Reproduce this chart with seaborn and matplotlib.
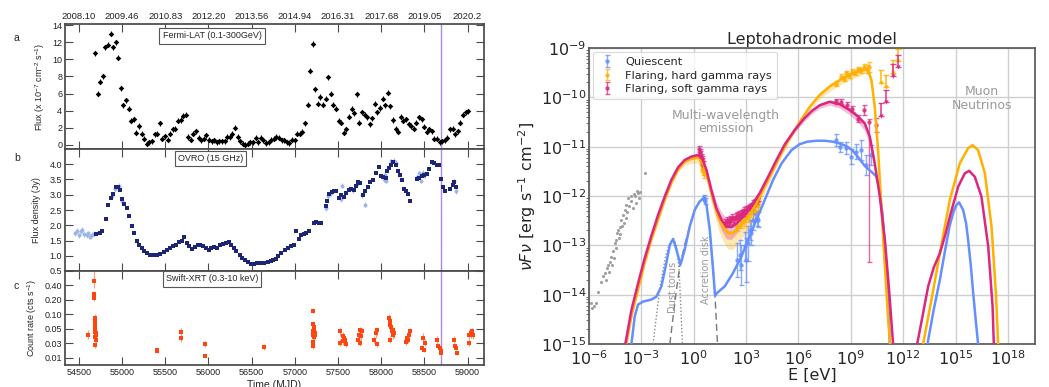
import numpy as np
import pandas as pd
import matplotlib
matplotlib.use("Agg")
import matplotlib.pyplot as plt
import seaborn as sns
from matplotlib.ticker import FixedLocator, NullFormatter, LogLocator

# ---------------------------------------------------------------- light curves
# Fermi-LAT 30-day bins (flux in 1e-7 cm^-2 s^-1)
fermi_first_bin = 54687
fermi_bin_days = 30
fermi_flux = [10.7, 6.0, 7.4, 8.0, 11.4, 11.7, 13.0, 11.4, 12.0, 10.2, 6.6, 4.6, 5.2, 4.2, 2.8, 3.0,
              1.4, 2.2, 1.3, 0.7, 0.1, 0.3, 0.4, 1.2, 1.3, 2.5, 0.7, 1.0, 0.6, 1.3, 1.8, 1.9, 2.8, 2.9,
              3.4, 3.5, 0.9, 0.6, 1.3, 1.6, 0.8, 0.5, 0.7, 1.1, 0.6, 0.4, 0.5, 0.3, 0.4, 0.4, 0.4, 0.9,
              0.9, 1.3, 2.0, 0.9, 0.4, 0.1, 0.0, 0.1, 0.3, 0.3, 0.8, 0.3, 0.8, 0.5, 0.2, 0.3, 0.6, 0.7,
              0.9, 0.8, 0.5, 0.5, 0.3, 0.2, 0.6, 0.5, 1.3, 1.3, 1.5, 2.5, 4.7, 8.7, 11.8, 6.5, 4.8, 5.6,
              4.7, 5.4, 7.9, 6.0, 4.7, 4.2, 2.8, 2.6, 1.4, 1.8, 3.3, 4.2, 3.7, 5.9, 2.6, 3.8, 3.5, 3.2,
              2.4, 3.1, 4.8, 3.8, 4.3, 5.4, 4.6, 6.1, 4.5, 2.9, 1.9, 1.5, 3.3, 2.8, 3.0, 2.4, 2.2, 1.9,
              2.6, 3.2, 3.0, 2.1, 1.5, 1.8, 1.6, 0.7, 0.7, 0.3, 0.4, 0.5, 0.8, 1.8, 1.9, 1.2, 1.6, 2.6,
              3.5, 3.8, 3.9]
fermi_err = 0.3

# OVRO 15 GHz, binned (dark) and individual (light) measurements, Jy
ovro_mjd = [54695, 54746, 54773, 54812, 54839, 54870, 54898, 54925, 54948, 54972, 54995, 55026, 55054,
            55081, 55112, 55143, 55175, 55202, 55233, 55260, 55292, 55327, 55366, 55405, 55436, 55487,
            55522, 55557, 55592, 55627, 55658, 55690, 55721, 55748, 55779, 55814, 55846, 55877, 55908,
            55943, 55970, 56002, 56033, 56068, 56103, 56138, 56173, 56208, 56239, 56267, 56294, 56325,
            56360, 56392, 56423, 56454, 56489, 56528, 56567, 56606, 56645, 56684, 56723, 56750, 56780,
            56807, 56846, 56884, 56923, 56961, 56988, 57012, 57050, 57077, 57104, 57135, 57166, 57220,
            57251, 57282, 57309, 57359, 57374, 57398, 57425, 57452, 57475, 57513, 57540, 57567, 57598,
            57629, 57656, 57683, 57706, 57733, 57753, 57791, 57818, 57849, 57876, 57907, 57938, 57969,
            57996, 58023, 58050, 58069, 58092, 58119, 58139, 58166, 58189, 58216, 58243, 58262, 58285,
            58308, 58332, 58409, 58436, 58467, 58494, 58525, 58556, 58583, 58610, 58641, 58664, 58687,
            58710, 58741, 58795, 58826, 58841, 58865]
ovro_jy = [1.71, 1.74, 1.82, 2.21, 2.65, 2.89, 3.02, 3.24, 3.27, 3.16, 2.87, 2.69, 2.58,
           2.29, 1.96, 1.73, 1.49, 1.36, 1.25, 1.16, 1.08, 1.03, 1.01, 1.01, 1.05, 1.11,
           1.20, 1.25, 1.31, 1.36, 1.44, 1.47, 1.60, 1.42, 1.31, 1.23, 1.28, 1.34, 1.34,
           1.31, 1.25, 1.20, 1.25, 1.28, 1.27, 1.34, 1.38, 1.42, 1.45, 1.36, 1.27, 1.16,
           1.03, 0.92, 0.85, 0.78, 0.74, 0.74, 0.76, 0.76, 0.77, 0.79, 0.82, 0.86, 0.90,
           0.98, 1.09, 1.20, 1.25, 1.33, 1.36, 1.80, 1.56, 1.67, 1.71, 1.75, 1.80, 2.06,
           2.12, 2.08, 2.08, 2.62, 2.78, 3.02, 3.08, 3.11, 3.13, 2.89, 3.00, 2.93, 3.05,
           3.16, 3.19, 3.15, 3.30, 3.41, 3.37, 2.98, 3.13, 3.24, 3.43, 3.47, 3.71, 3.92,
           3.60, 3.57, 3.54, 3.78, 3.87, 3.98, 4.06, 3.99, 3.78, 3.65, 3.47, 3.19, 3.13,
           3.02, 2.78, 3.52, 3.56, 3.63, 3.65, 3.67, 3.85, 4.06, 4.03, 3.99, 3.97, 3.52,
           3.27, 3.11, 3.19, 3.32, 3.43, 3.27]
ovro_single_mjd = [54461, 54480, 54500, 54520, 54540, 54565, 54590, 54608, 54630, 54650, 54675,
                   54880, 54920, 54960, 55000, 57359, 57386, 57417, 57529, 57550, 57629, 57675,
                   57721, 57779, 57818, 58031, 58042, 58054, 58108, 58147, 58170, 58409, 58440,
                   58455, 58482, 58500, 58841, 58865]
ovro_single_jy = [1.74, 1.82, 1.67, 1.80, 1.85, 1.71, 1.67, 1.74, 1.63, 1.69, 1.72,
                  2.95, 3.20, 3.30, 2.80, 2.55, 2.95, 3.05, 2.85, 3.30, 3.20, 3.15,
                  3.35, 2.98, 2.67, 3.50, 3.65, 3.45, 4.10, 4.12, 4.05, 3.57, 3.70,
                  3.45, 3.72, 3.62, 3.45, 3.12]
ovro_single_err = 0.08

# Swift-XRT 0.3-10 keV count rates
xrt_mjd = [54609, 54675, 54675, 54676, 54683, 54683, 54687, 54683, 54691, 54687, 54695, 54683, 54695,
           54683, 54699, 55402, 55405, 55686, 55688, 55959, 55961, 56640,
           57214, 57206, 57218, 57225, 57214, 57229, 57206, 57222, 57214, 57210, 57233,
           57526, 57522, 57554, 57574, 57585, 57562, 57593,
           57726, 57738, 57757, 57776, 57749, 57768,
           57918, 57938, 57946, 57957,
           58093, 58105, 58097, 58117, 58125, 58136, 58105, 58144, 58132,
           58292, 58304, 58319, 58331, 58311,
           58471, 58483, 58502, 58491,
           58646, 58658, 58677, 58689, 58697,
           58840, 58852, 58864, 58872,
           59018, 59034, 59046, 59057, 59018]
xrt_rate = [0.042, 0.433, 0.282, 0.228, 0.088, 0.076, 0.065, 0.056, 0.049, 0.046, 0.042, 0.039, 0.035,
            0.028, 0.044, 0.021, 0.020, 0.045, 0.037, 0.029, 0.012, 0.025,
            0.126, 0.067, 0.056, 0.049, 0.047, 0.044, 0.042, 0.039, 0.032, 0.026, 0.042,
            0.047, 0.031, 0.040, 0.037, 0.034, 0.033, 0.029,
            0.035, 0.042, 0.049, 0.047, 0.031, 0.040,
            0.035, 0.044, 0.049, 0.029,
            0.088, 0.076, 0.065, 0.056, 0.047, 0.042, 0.035, 0.044, 0.049,
            0.032, 0.038, 0.042, 0.047, 0.035,
            0.024, 0.038, 0.031, 0.021,
            0.035, 0.026, 0.024, 0.020, 0.016,
            0.035, 0.026, 0.024, 0.017,
            0.042, 0.044, 0.047, 0.042, 0.031]
xrt_frac_err = 0.15

# Count-rate axis: labelled levels are drawn evenly spaced
rate_levels = [0.0, 0.01, 0.03, 0.05, 0.10, 0.20, 0.40, 0.5]
rate_tick_labels = ["0.01", "0.03", "0.05", "0.10", "0.20", "0.40", "0.5"]

mjd_ticks = [54500, 55000, 55500, 56000, 56500, 57000, 57500, 58000, 58500, 59000]
year_labels = ["2008.10", "2009.46", "2010.83", "2012.20", "2013.56", "2014.94", "2016.31",
               "2017.68", "2019.05", "2020.2"]
neutrino_mjd = 58694

# ---------------------------------------------------------------- SED (log10 E [eV], log10 nuFnu)
quiet_lgE = [-3.57, -3.38, -3.19, -2.9, -2.43, -2.14, -1.85, -1.57, -1.37, -1.18, -0.99, -0.76, -0.52,
             -0.23, 0.06, 0.34, 0.54, 0.73, 0.92, 1.11, 1.22, 1.35, 1.78, 2.25, 2.73, 3.11, 3.59, 4.07,
             4.55, 5.03, 5.6, 6.07, 6.5, 7.03, 7.5, 7.98, 8.4, 8.75, 9.05, 9.32, 9.8, 10.18, 10.45,
             10.6, 10.81, 11.0, 11.16, 11.23]
quiet_lgF = [-15.0, -14.44, -14.2, -14.14, -14.1, -14.04, -13.83, -13.36, -12.99, -12.87, -13.09, -13.39,
             -13.09, -12.62, -12.28, -12.11, -12.05, -12.18, -12.69, -13.5, -14.02, -13.96, -13.83,
             -13.56, -13.23, -12.89, -12.48, -12.08, -11.67, -11.34, -11.07, -10.95, -10.9, -10.88,
             -10.88, -10.9, -10.94, -10.99, -11.06, -11.17, -11.39, -11.51, -11.6, -11.8, -12.35,
             -13.23, -14.24, -15.0]
quiet_nu_lgE = [13.39, 13.75, 14.1, 14.4, 14.67, 14.9, 15.05, 15.2, 15.43, 15.6, 15.72, 15.87, 16.01,
                16.15, 16.29]
quiet_nu_lgF = [-15.0, -14.3, -13.7, -13.1, -12.59, -12.3, -12.18, -12.13, -12.28, -12.55, -12.89,
                -13.4, -13.97, -14.5, -15.0]

hard_lgE = [-3.86, -3.57, -3.19, -2.81, -2.43, -2.04, -1.66, -1.28, -0.9, -0.52, -0.13, 0.25, 0.54,
            0.82, 1.11, 1.4, 1.68, 1.97, 2.25, 2.64, 3.11, 3.59, 4.07, 4.55, 5.03, 5.6, 6.07, 6.65,
            7.22, 7.79, 8.37, 8.94, 9.42, 9.8, 9.99, 10.18, 10.37, 10.56, 10.75, 10.95, 11.14, 11.25]
hard_lgF = [-15.0, -14.44, -13.9, -13.36, -12.89, -12.48, -12.08, -11.74, -11.47, -11.3, -11.24, -11.22,
            -11.34, -11.67, -12.08, -12.42, -12.62, -12.75, -12.75, -12.62, -12.42, -12.15, -11.81,
            -11.47, -11.13, -10.76, -10.5, -10.19, -9.95, -9.78, -9.65, -9.55, -9.48, -9.41, -9.45,
            -9.65, -10.19, -11.07, -12.21, -13.43, -14.51, -15.0]
hard_nu_lgE = [13.14, 13.62, 14.1, 14.67, 15.24, 15.72, 15.97, 16.29, 16.68, 17.06, 17.31, 17.44]
hard_nu_lgF = [-15.0, -14.1, -13.16, -12.08, -11.34, -11.03, -10.97, -11.07, -11.54, -12.62, -13.97,
               -15.0]

soft_lgE = [-3.92, -3.57, -3.19, -2.81, -2.43, -2.04, -1.66, -1.28, -0.9, -0.52, -0.13, 0.25, 0.48,
            0.73, 1.01, 1.3, 1.59, 1.87, 2.16, 2.45, 2.83, 3.31, 3.78, 4.26, 4.74, 5.22, 5.79, 6.3,
            6.75, 7.22, 7.79, 8.37, 8.94, 9.42, 9.8, 10.09, 10.37, 10.66, 10.95, 11.19, 11.42]
soft_lgF = [-15.0, -14.31, -13.77, -13.26, -12.81, -12.38, -12.01, -11.67, -11.42, -11.27, -11.2, -11.17,
            -11.24, -11.47, -11.88, -12.25, -12.48, -12.62, -12.63, -12.56, -12.42, -12.21, -11.94,
            -11.61, -11.27, -10.95, -10.66, -10.44, -10.28, -10.16, -10.09, -10.14, -10.26, -10.39,
            -10.53, -10.8, -11.34, -12.01, -12.89, -13.9, -15.0]
soft_nu_lgE = [12.8, 13.1, 13.43, 13.75, 14.1, 14.4, 14.67, 15.15, 15.53, 15.78, 16.1, 16.48, 16.87,
               17.12, 17.19]
soft_nu_lgF = [-15.0, -14.45, -13.83, -13.45, -13.16, -12.8, -12.42, -11.81, -11.54, -11.49, -11.61,
               -12.01, -13.02, -14.24, -15.0]

# Uncertainty bands (dex below / above the model curve)
hard_band_below = [0, 0, 0, 0, 0, 0, 0, 0, 0.05, 0.08, 0.1, 0.12, 0.14, 0.16, 0.2, 0.25, 0.3, 0.33,
                   0.33, 0.3, 0.25, 0.18, 0.12, 0.08, 0.06, 0.05, 0.05, 0.06, 0.08, 0.1, 0.1, 0.1,
                   0.1, 0.1, 0.1, 0.12, 0.1, 0, 0, 0, 0, 0]
hard_band_above = [0, 0, 0, 0, 0, 0, 0, 0, 0.02, 0.03, 0.03, 0.03, 0.04, 0.05, 0.05, 0.06, 0.06, 0.06,
                   0.06, 0.06, 0.05, 0.04, 0.03, 0.03, 0.03, 0.03, 0.03, 0.04, 0.05, 0.05, 0.05, 0.05,
                   0.04, 0.03, 0.03, 0.03, 0.03, 0, 0, 0, 0, 0]
soft_band_below = [0, 0, 0, 0, 0, 0, 0, 0, 0.04, 0.05, 0.06, 0.07, 0.08, 0.1, 0.14, 0.18, 0.22, 0.25,
                   0.25, 0.2, 0.15, 0.1, 0.07, 0.05, 0.04, 0.04, 0.05, 0.06, 0.06, 0.06, 0.07, 0.08,
                   0.1, 0.12, 0.15, 0.18, 0.15, 0, 0, 0, 0]
soft_band_above = [0, 0, 0, 0, 0, 0, 0, 0, 0.02, 0.02, 0.02, 0.03, 0.03, 0.04, 0.08, 0.12, 0.15, 0.17,
                   0.18, 0.17, 0.14, 0.1, 0.06, 0.04, 0.03, 0.03, 0.03, 0.03, 0.04, 0.04, 0.04, 0.04,
                   0.04, 0.04, 0.04, 0.04, 0.04, 0, 0, 0, 0]

# Thermal components of the quiescent model
torus_lgE = [-2.33, -2.14, -1.95, -1.76, -1.57, -1.37, -1.18, -0.99, -0.84, -0.75, -0.65]
torus_lgF = [-15.0, -14.44, -13.9, -13.5, -13.16, -12.96, -12.87, -12.99, -13.5, -14.17, -15.0]
disk_lgE = [-1.37, -1.18, -0.99, -0.8, -0.52, -0.23, 0.06, 0.34, 0.54, 0.73, 0.92, 1.11, 1.24, 1.36]
disk_lgF = [-15.0, -14.44, -13.9, -13.43, -12.99, -12.62, -12.28, -12.11, -12.05, -12.18, -12.69,
            -13.5, -14.17, -15.0]

# Archival radio / mm measurements
radio_lgE = [-5.86, -5.8, -5.72, -5.58, -5.48, -5.3, -5.2, -5.1, -5.05, -4.95, -4.91, -4.85, -4.81,
             -4.72, -4.68, -4.62, -4.55, -4.53, -4.45, -4.43, -4.38, -4.34, -4.3, -4.24, -4.2, -4.15,
             -4.1, -4.05, -4.0, -3.95, -3.9, -3.86, -3.8, -3.76, -3.7, -3.62, -3.57, -3.5, -3.45,
             -3.38, -3.3, -3.25, -3.19, -3.15, -3.09, -2.81]
radio_lgF = [-14.17, -14.28, -14.22, -14.17, -13.95, -13.75, -13.63, -13.56, -13.7, -13.45, -13.39,
             -13.55, -13.33, -13.23, -13.4, -13.12, -13.25, -12.96, -13.05, -12.89, -12.75, -12.69,
             -12.85, -12.62, -12.78, -12.48, -12.6, -12.38, -12.55, -12.28, -12.45, -12.18, -12.32,
             -12.05, -12.2, -12.0, -12.11, -12.25, -11.95, -12.01, -12.15, -11.9, -11.94, -12.05,
             -11.91, -11.53]

# Observed fluxes: log10 E, log10 nuFnu, error (dex)
quiet_obs_lgE = [0.56, 0.62, 2.45, 2.64, 2.73, 2.92, 3.02, 3.11, 3.21, 3.3, 3.4, 3.5, 3.6, 3.69,
                 8.14, 8.4, 8.71, 9.03, 9.32, 9.61, 9.89, 10.18]
quiet_obs_lgF = [-12.02, -12.1, -13.3, -13.19, -13.4, -13.02, -13.3, -12.96, -12.69, -12.75, -12.48,
                 -12.35, -12.45, -12.48, -10.86, -11.01, -11.03, -11.2, -11.1, -11.07, -11.37, -11.17]
quiet_obs_err = [0.05, 0.06, 0.35, 0.3, 0.4, 0.3, 0.45, 0.35, 0.2, 0.25, 0.2, 0.15, 0.15, 0.15,
                 0.12, 0.1, 0.12, 0.15, 0.15, 0.2, 0.2, 0.2]

hard_obs_lgE = [0.4, 0.45, 0.5, 0.55, 0.6, 2.5, 2.7, 2.9, 3.1, 3.3, 3.5, 3.7,
                8.14, 8.46, 8.6, 8.75, 8.9, 9.09, 9.25, 9.42, 9.58, 9.74, 9.9, 10.05]
hard_obs_lgF = [-11.3, -11.35, -11.45, -11.5, -11.55, -12.6, -12.55, -12.5, -12.45, -12.35, -12.3, -12.2,
                -9.72, -9.58, -9.62, -9.51, -9.55, -9.48, -9.5, -9.43, -9.45, -9.39, -9.42, -9.38]
hard_obs_err = [0.06, 0.06, 0.07, 0.07, 0.08, 0.1, 0.1, 0.1, 0.08, 0.08, 0.08, 0.08,
                0.06, 0.05, 0.05, 0.05, 0.05, 0.05, 0.05, 0.05, 0.05, 0.06, 0.08, 0.1]
hard_ul_lgE = [10.72, 11.04, 11.4, 11.71]
hard_ul_lgF = [-9.45, -9.55, -9.25, -9.02]

soft_obs_lgE = [0.3, 0.35, 0.38, 0.42, 0.45, 0.5, 0.55,
                1.8, 1.9, 2.0, 2.1, 2.2, 2.3, 2.4, 2.5, 2.6, 2.7, 2.8, 2.9, 3.0, 3.1, 3.2, 3.3, 3.4,
                3.5, 3.6, 3.7,
                8.14, 8.46, 8.79, 9.09, 9.42, 9.74, 10.43]
soft_obs_lgF = [-11.05, -11.1, -11.15, -11.2, -11.25, -11.3, -11.38,
                -12.55, -12.5, -12.52, -12.48, -12.45, -12.47, -12.42, -12.4, -12.38, -12.36, -12.33,
                -12.3, -12.28, -12.24, -12.22, -12.2, -12.15, -12.12, -12.1, -12.05,
                -10.08, -10.09, -10.16, -10.24, -10.43, -10.26, -10.56]
soft_obs_err = [0.06, 0.06, 0.06, 0.06, 0.07, 0.07, 0.08,
                0.08, 0.08, 0.08, 0.08, 0.08, 0.07, 0.07, 0.07, 0.07, 0.07, 0.07, 0.07, 0.07, 0.06,
                0.06, 0.06, 0.06, 0.06, 0.06, 0.06,
                0.05, 0.05, 0.06, 0.06, 0.08, 0.1, 0.15]
soft_wide_lgE = 10.05
soft_wide_lgF = -10.49
soft_wide_lo = -13.33
soft_ul_lgE = [10.72, 11.04, 11.4, 11.71]
soft_ul_lgF = [-10.12, -9.85, -9.32, -9.14]
ul_length = 0.25

sed_ticks_lgE = [-6, -3, 0, 3, 6, 9, 12, 15, 18]

# ---------------------------------------------------------------- styling
C_QUIET = "#648FFF"
C_HARD = "#FFB000"
C_SOFT = "#DC267F"
GREY_TXT = "#9a9a9a"

sns.set_theme(style="whitegrid")
plt.rcParams["font.family"] = ["DejaVu Sans"]
plt.rcParams["mathtext.default"] = "regular"

fig = plt.figure(figsize=(10.49, 3.87), dpi=100)
W, H = 1049.0, 387.0


def box(l, t, r, b):
    return [l / W, 1 - b / H, (r - l) / W, (b - t) / H]


lc_rc = {"axes.edgecolor": "#4a4a4a", "axes.linewidth": 0.9, "axes.grid": False,
         "xtick.direction": "in", "ytick.direction": "in",
         "xtick.major.size": 3.5, "ytick.major.size": 3.0,
         "xtick.top": True, "ytick.right": True, "xtick.bottom": True, "ytick.left": True}
LC_FONT = "Liberation Sans"
LC_FS = 6.5

with sns.axes_style("ticks", rc=lc_rc):
    ax_a = fig.add_axes(box(65, 24, 484, 149))
    ax_b = fig.add_axes(box(65, 149, 484, 271))
    ax_c = fig.add_axes(box(65, 271, 484, 365))

xlim_mjd = (54340, 59190)
for ax in (ax_a, ax_b, ax_c):
    ax.set_xlim(*xlim_mjd)
    ax.xaxis.set_major_locator(FixedLocator(mjd_ticks))
    ax.tick_params(axis="both", which="both", direction="in", top=True, right=True,
                   labelsize=LC_FS, labelfontfamily=LC_FONT, labelcolor="#222222",
                   color="#4a4a4a", width=0.8, pad=2)
    ax.axvline(neutrino_mjd, color="#a98be6", lw=1.0, zorder=1)
    ax.set_facecolor("white")

# --- panel a: Fermi-LAT
fermi_mjd = fermi_first_bin + fermi_bin_days * np.arange(len(fermi_flux))
fermi_df = pd.DataFrame({"mjd": fermi_mjd, "flux": fermi_flux})
ax_a.errorbar(fermi_df["mjd"], fermi_df["flux"], yerr=fermi_err, xerr=fermi_bin_days / 2,
              fmt="none", ecolor="black", elinewidth=0.7, capsize=0, zorder=2)
sns.scatterplot(data=fermi_df, x="mjd", y="flux", ax=ax_a, color="black", marker="D", s=8,
                linewidth=0, zorder=3)
ax_a.set_ylim(-0.5, 14.15)
ax_a.set_yticks(range(0, 15, 2))
ax_a.set_xticklabels(year_labels)
ax_a.tick_params(axis="x", labeltop=True, labelbottom=False, labelsize=6.8)
ax_a.set_xlabel("")
ax_a.set_ylabel(r"Flux (x 10$^{-7}$ cm$^{-2}$ s$^{-1}$)", fontsize=LC_FS, family=LC_FONT, labelpad=4)
ax_a.text(0.351, 0.905, "Fermi-LAT (0.1-300GeV)", transform=ax_a.transAxes, ha="center", va="center",
          fontsize=LC_FS, family=LC_FONT,
          bbox=dict(boxstyle="square,pad=0.35", fc="white", ec="#555555", lw=0.8))

# --- panel b: OVRO
ovro_single = pd.DataFrame({"mjd": ovro_single_mjd, "jy": ovro_single_jy})
ax_b.errorbar(ovro_single["mjd"], ovro_single["jy"], yerr=ovro_single_err, fmt="none",
              ecolor="#a9c0ee", elinewidth=0.8, capsize=0, zorder=2)
sns.scatterplot(data=ovro_single, x="mjd", y="jy", ax=ax_b, color="#9cb6ea", s=8, linewidth=0,
                zorder=2)
ovro_df = pd.DataFrame({"mjd": ovro_mjd, "jy": ovro_jy})
sns.scatterplot(data=ovro_df, x="mjd", y="jy", ax=ax_b, color="#1d2676", marker="s", s=8,
                linewidth=0, zorder=3)
ax_b.set_ylim(0.5, 4.5)
ax_b.set_yticks([1.0, 1.5, 2.0, 2.5, 3.0, 3.5, 4.0])
ax_b.set_yticklabels(["1.0", "1.5", "2.0", "2.5", "3.0", "3.5", "4.0"])
ax_b.tick_params(axis="x", labelbottom=False)
ax_b.set_xlabel("")
ax_b.set_ylabel("Flux density (Jy)", fontsize=LC_FS, family=LC_FONT, labelpad=6)
ax_b.text(0.347, 0.922, "OVRO (15 GHz)", transform=ax_b.transAxes, ha="center", va="center",
          fontsize=LC_FS, family=LC_FONT,
          bbox=dict(boxstyle="square,pad=0.3", fc="white", ec="#555555", lw=0.8))

# --- panel c: Swift-XRT on an evenly spaced count-rate scale
rate_pos = np.arange(len(rate_levels)) - 1.0


def rate_fwd(v):
    return np.interp(v, rate_levels, rate_pos)


def rate_inv(p):
    return np.interp(p, rate_pos, rate_levels)


ax_c.set_yscale("function", functions=(rate_fwd, rate_inv))
xrt_df = pd.DataFrame({"mjd": xrt_mjd, "rate": xrt_rate})
ax_c.errorbar(xrt_df["mjd"], xrt_df["rate"], yerr=xrt_df["rate"] * xrt_frac_err, fmt="none",
              ecolor="#ff9a76", elinewidth=0.8, capsize=0, zorder=2)
sns.scatterplot(data=xrt_df, x="mjd", y="rate", ax=ax_c, color="#ff4611", marker="s", s=7,
                linewidth=0, zorder=3)
ax_c.set_ylim(0.005, 0.5)
ax_c.yaxis.set_major_locator(FixedLocator(rate_levels[1:]))
ax_c.yaxis.set_minor_locator(FixedLocator([]))
ax_c.set_yticklabels(rate_tick_labels)
ax_c.set_xticklabels([str(t) for t in mjd_ticks])
ax_c.set_xlabel("Time (MJD)", fontsize=7.5, family=LC_FONT, labelpad=2)
ax_c.set_ylabel(r"Count rate (cts s$^{-1}$)", fontsize=LC_FS, family=LC_FONT, labelpad=4)
ax_c.text(0.351, 0.915, "Swift-XRT (0.3-10 keV)", transform=ax_c.transAxes, ha="center", va="center",
          fontsize=LC_FS, family=LC_FONT,
          bbox=dict(boxstyle="square,pad=0.35", fc="white", ec="#555555", lw=0.8))

for lbl, y in (("a", 38), ("b", 158), ("c", 286)):
    fig.text(14 / W, 1 - y / H, lbl, fontsize=7.5, family=LC_FONT, ha="left", va="center")

# ---------------------------------------------------------------- SED panel
sed_rc = {"axes.edgecolor": "#5a5a5a", "axes.linewidth": 1.0, "grid.color": "#cfcfcf",
          "grid.linewidth": 1.0, "ytick.left": True, "ytick.minor.left": True}
with sns.axes_style("whitegrid", rc=sed_rc):
    ax_s = fig.add_axes(box(589, 48, 1035, 344))
ax_s.set_xscale("log")
ax_s.set_yscale("log")
ax_s.set_xlim(1e-6, 10 ** 19.55)
ax_s.set_ylim(1e-15, 1e-9)


def curve(lgE, lgF):
    return pd.DataFrame({"E": np.power(10.0, lgE), "F": np.power(10.0, lgF)})


def band(lgE, lgF, below, above, color):
    lgE = np.asarray(lgE)
    lgF = np.asarray(lgF)
    below = np.asarray(below)
    above = np.asarray(above)
    m = (below > 0) | (above > 0)
    ax_s.fill_between(10 ** lgE[m], 10 ** (lgF[m] - below[m]), 10 ** (lgF[m] + above[m]),
                      color=color, alpha=0.3, lw=0, zorder=2)


band(hard_lgE, hard_lgF, hard_band_below, hard_band_above, C_HARD)
band(soft_lgE, soft_lgF, soft_band_below, soft_band_above, C_SOFT)

# thermal components
sns.lineplot(data=curve(torus_lgE, torus_lgF), x="E", y="F", ax=ax_s, sort=False, estimator=None,
             color="#888888", lw=1.0, linestyle=(0, (1, 1.5)), zorder=3)
sns.lineplot(data=curve(disk_lgE, disk_lgF), x="E", y="F", ax=ax_s, sort=False, estimator=None,
             color="#777777", lw=1.0, linestyle=(0, (5, 3)), zorder=3)

# radio archive
radio = curve(radio_lgE, radio_lgF)
sns.scatterplot(data=radio, x="E", y="F", ax=ax_s, color="#a0a0a0", s=5, linewidth=0, zorder=3)


def observed(lgE, lgF, err, color):
    lgE = np.asarray(lgE)
    lgF = np.asarray(lgF)
    err = np.asarray(err)
    y = 10 ** lgF
    lo = y - 10 ** (lgF - err)
    hi = 10 ** (lgF + err) - y
    return ax_s.errorbar(10 ** lgE, y, yerr=[lo, hi], fmt="o", ms=2.2, color=color, ecolor=color,
                         elinewidth=1.0, capsize=1.8, capthick=1.0, alpha=0.75, zorder=4)


def upper_limits(lgE, lgF, color):
    lgE = np.asarray(lgE)
    top = 10 ** np.asarray(lgF)
    bottom = 10 ** (np.asarray(lgF) - ul_length)
    ax_s.errorbar(10 ** lgE, top, yerr=[top - bottom, np.zeros_like(top)], fmt="none", ecolor=color,
                  elinewidth=1.2, capsize=2, capthick=1.0, alpha=0.85, zorder=4)
    ax_s.scatter(10 ** lgE, bottom, marker="v", s=10, color=color, alpha=0.85, zorder=4, lw=0)


h_quiet = observed(quiet_obs_lgE, quiet_obs_lgF, quiet_obs_err, C_QUIET)
h_hard = observed(hard_obs_lgE, hard_obs_lgF, hard_obs_err, C_HARD)
h_soft = observed(soft_obs_lgE, soft_obs_lgF, soft_obs_err, C_SOFT)
upper_limits(hard_ul_lgE, hard_ul_lgF, C_HARD)
upper_limits(soft_ul_lgE, soft_ul_lgF, C_SOFT)
wide_y = 10 ** soft_wide_lgF
ax_s.errorbar([10 ** soft_wide_lgE], [wide_y], yerr=[[wide_y - 10 ** soft_wide_lo], [0.15 * wide_y]],
              fmt="o", ms=2.2, color=C_SOFT, elinewidth=1.0, capsize=1.8, alpha=0.7, zorder=4)

# model curves
for lgE, lgF, col in ((quiet_lgE, quiet_lgF, C_QUIET), (quiet_nu_lgE, quiet_nu_lgF, C_QUIET),
                      (hard_lgE, hard_lgF, C_HARD), (hard_nu_lgE, hard_nu_lgF, C_HARD),
                      (soft_lgE, soft_lgF, C_SOFT), (soft_nu_lgE, soft_nu_lgF, C_SOFT)):
    sns.lineplot(data=curve(lgE, lgF), x="E", y="F", ax=ax_s, sort=False, estimator=None,
                 color=col, lw=1.8, zorder=5)

ax_s.xaxis.set_major_locator(FixedLocator([10.0 ** k for k in sed_ticks_lgE]))
ax_s.xaxis.set_minor_locator(FixedLocator([]))
ax_s.yaxis.set_major_locator(LogLocator(base=10, numticks=20))
ax_s.yaxis.set_minor_locator(LogLocator(base=10, subs=np.arange(2, 10), numticks=20))
ax_s.yaxis.set_minor_formatter(NullFormatter())
ax_s.tick_params(axis="both", which="major", labelsize=11.5, pad=2, length=0)
ax_s.tick_params(axis="x", which="major", pad=4)
ax_s.tick_params(axis="y", which="minor", left=True, length=2.5, width=0.6, color="#555555")
ax_s.grid(True, which="major", color="#cfcfcf", lw=1.0)
ax_s.grid(False, which="minor")
ax_s.set_xlabel("E [eV]", fontsize=11.5, labelpad=0)
ax_s.set_ylabel(r"$\mathit{\nu F\nu}$ [erg s$^{-1}$ cm$^{-2}$]", fontsize=11.5, labelpad=2)
ax_s.set_title("Leptohadronic model", fontsize=11.5, pad=3)

ax_s.text(10 ** 1.83, 10 ** -10.5, "Multi-wavelength\nemission", ha="center", va="center",
          fontsize=9, color=GREY_TXT, linespacing=1.1)
ax_s.text(10 ** 16.5, 10 ** -10.02, "Muon\nNeutrinos", ha="center", va="center", fontsize=9,
          color=GREY_TXT, linespacing=1.1)
ax_s.text(10 ** -1.19, 10 ** -13.85, "Dust torus", rotation=90, ha="center", va="center",
          fontsize=7, color=GREY_TXT)
ax_s.text(10 ** 0.73, 10 ** -13.5, "Accretion disk", rotation=90, ha="center", va="center",
          fontsize=7, color=GREY_TXT)

leg = ax_s.legend([h_quiet, h_hard, h_soft],
                  ["Quiescent", "Flaring, hard gamma rays", "Flaring, soft gamma rays"],
                  loc="upper left", fontsize=8.2, frameon=True, borderpad=0.45, labelspacing=0.3,
                  handlelength=1.5, handletextpad=0.9, borderaxespad=0.35, fancybox=True)
leg.get_frame().set_edgecolor("#d0d0d0")
leg.get_frame().set_linewidth(0.8)

fig.savefig("out.png", dpi=100)
